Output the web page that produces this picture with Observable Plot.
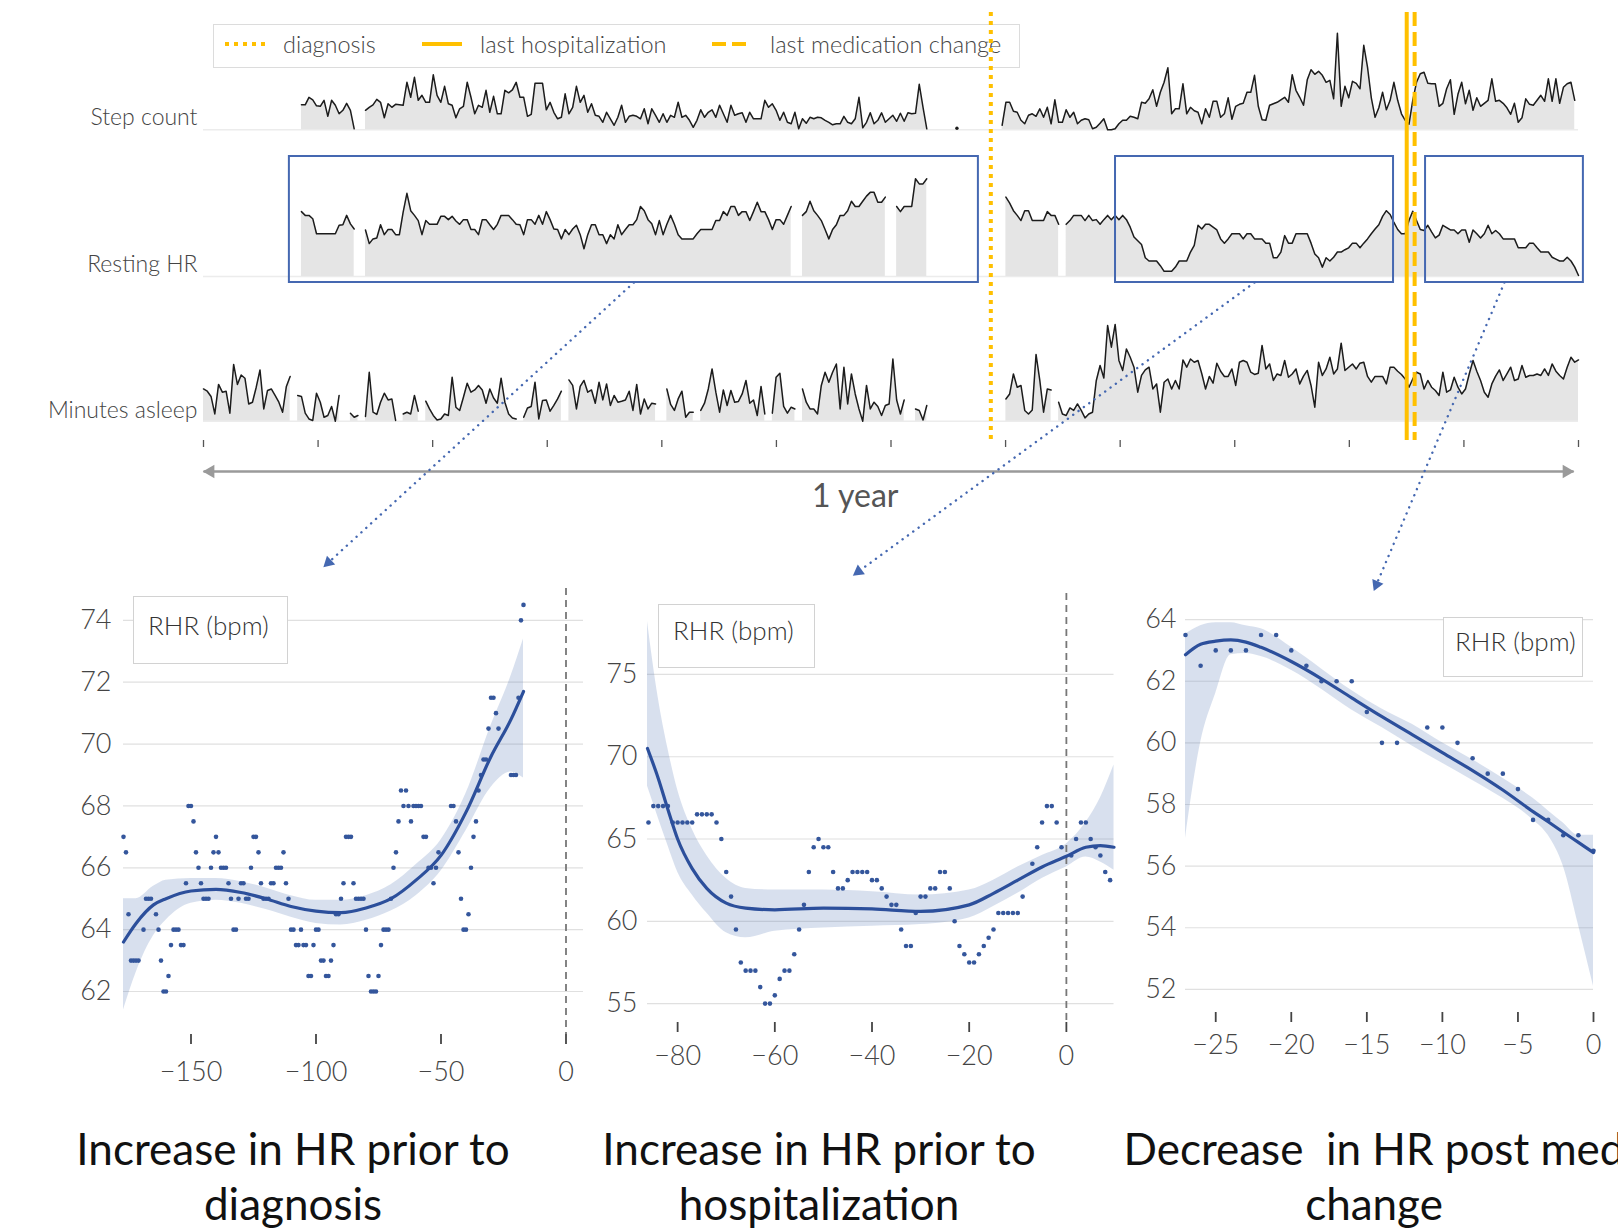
<!DOCTYPE html>
<html>
<head>
<meta charset="utf-8">
<script src="https://cdn.jsdelivr.net/npm/d3@7"></script>
<script src="https://cdn.jsdelivr.net/npm/@observablehq/plot@0.6"></script>
<style>
  html, body { margin:0; padding:0; background:#fff; }
  #root { position:relative; width:1618px; height:1228px; overflow:hidden; font-family: Lato, "Open Sans", sans-serif; }
  .abs { position:absolute; }
  .legend { position:absolute; left:213px; top:24px; width:805px; height:42px; border:1.5px solid #dcdcdc; }
  .legend .item { position:absolute; top:0; height:38px; display:flex; align-items:center; font-size:23.5px; font-weight:300; color:#444; white-space:nowrap; }
  .rhr { position:absolute; border:1.5px solid #d2d2d2; background:#fff; box-sizing:border-box; font-size:26px; font-weight:300; color:#333; white-space:nowrap; }
  .title { position:absolute; width:640px; text-align:center; font-size:44px; line-height:55px; color:#111; white-space:pre; }
</style>
</head>
<body>
<div id="root"></div>
<script>
// ---------------- DATA ----------------
// Daily series over one year (day 0..365); each segment = [first day, daily values]
const stepCountSegments = [
  [26, [5000,5000,6500,6000,4800,4700,5900,2700,5900,4900,3200,3900,5300,3900,200]],
  [43, [3900,4500,5000,6100,5500,2400,5200,4500,5100,5000,
        4900,9500,6500,10500,5900,6900,5500,5500,11000,6900,
        5500,8700,5200,4900,2400,4200,4700,9500,6500,3200,
        4900,4500,7900,3500,6700,3200,3200,7900,7400,8000,
        9500,6500,6500,2700,3100,9300,9300,9300,4000,5500,
        3500,2200,2500,7200,3200,4500,8700,5500,6900,3500,
        5200,2900,2700,1500,3500,2200,900,2500,4900,1500,
        2700,2900,2700,2200,4200,1200,4200,2900,1500,
        3200,1500,2900,2500,5500,2500,2900,1900,500,1900,
        4000,2500,3500,4000,2500,4900,3200,1500,4900,2900,
        3200,3400,1500,3500,2200,2200,2200,5900,4500,5200,
        3900,1900,3500,1500,1200,3500,200,2200,1300,2500,
        2200,2500,2400,1900,1500,1000,1200,1200,2700,1500,
        1200,2200,6500,400,1500,3400,1200,1900,3400,1500,
        2200,2900,1700,3300,1700,3400,3200,3300,9100,4500,
        200]],
  [200, [300]],
  [212, [900,5500,5500,3700,3500,1900,1200,2900,3200,2700,4200,2500,4500,1200,6000,1500,1500,4000,2500,3500,
         1200,1900,2200,2000,200,500,1300,2200,0,0,200,1200,1900,
         1900,2700,2500,2200,5500,5300,6200,8000,4700,7500,
         9500,12400,3200,4200,4200,9200,3200,4500,3800,3500,
         1200,4200,2500,5700,5700,2500,3200,6400,2100,4700,
         5100,5300,7500,7500,10900,4700,2000,1900,4900,5200,
         5500,6000,6500,5500,11000,7900,6500,4900,10000,12000,
         11100,11700,10900,9500,9900,6200,19300,4700,8700,6400,
         9700,9300,8200,16900,12500,6400,2500,4400,7500,4000,
         5900,9500,5900,3200,1900,1100,5900,9500,11200,11500,
         9300,9200,9200,4700,5300,8200,10000,3100,7100,9500,
         5200,7900,3900,6400,4700,5300,5900,10200,5700,5900,
         5300,4400,3100,5300,1500,2400,6200,5100,4900,5900,
         6900,5700,10200,5700,10200,5300,8500,9200,9500,5900]]
];

const restingHRSegments = [
  [26, [66.8,66.0,66.0,65.3,62.1,62.1,62.1,62.1,62.1,62.1,63.9,64.0,66.0,64.2,63.1]],
  [43, [62.9,60.0,61.0,61.2,64.0,61.9,63.0,63.0,61.9,61.9,
        66.7,70.7,67.0,66.0,64.9,61.9,64.9,64.1,64.1,64.1,
        65.8,65.8,65.1,65.8,64.8,64.1,65.1,65.1,63.0,63.0,
        61.9,65.1,65.1,64.0,63.0,64.1,66.0,66.0,66.0,65.1,
        64.1,64.0,61.9,65.1,65.1,64.1,66.0,64.1,66.8,65.1,
        63.1,63.0,61.0,63.0,61.9,63.1,63.9,61.9,58.9,61.9,
        64.0,64.0,61.9,61.9,60.0,61.9,61.0,64.0,61.9,63.0,
        64.0,64.0,65.1,67.9,67.0,65.1,64.2,61.9,
        64.9,61.9,64.1,66.0,64.1,61.9,61.0,61.0,61.0,61.0,
        62.1,63.0,63.0,63.0,63.0,64.9,64.9,66.8,66.0,67.9,
        67.9,66.0,66.8,66.8,64.9,66.8,68.8,66.8,66.8,65.1,
        63.0,65.1,65.1,64.1,66.0,67.9]],
  [159, [66.0,66.8,69.0,67.0,66.0,64.9,63.0,61.0,63.0,64.0,66.0,66.0,67.0,69.0,67.9,67.9,69.0,70.1,70.9,70.9,68.8,68.8,69.9]],
  [184, [67.9,66.8,67.9,67.9,67.9,73.8,72.7,72.7,73.8]],
  [213, [69.9,68.6,67.0,66.0,64.9,67.0,67.0,64.9,64.9,64.9,64.9,66.8,66.0,66.0,64.1]],
  [229, [64.1,64.9,66.0,66.0,66.0,64.9,66.0,64.9,65.1,64.1,65.1,66.0,65.1,66.0,65.1,66.0,
         65.1,63.5,61.4,60.6,59.8,57.0,56.3,56.3,56.3,55.3,
         54.1,54.1,54.1,55.0,56.3,56.3,56.3,58.2,59.6,63.9,
         63.1,64.1,64.1,63.5,62.9,61.0,60.1,61.0,62.1,62.1,
         62.1,61.0,62.1,62.1,61.0,61.0,61.0,60.1,60.1,57.0,
         57.0,58.2,61.7,60.1,60.1,62.1,62.1,62.1,62.1,60.1,
         57.8,57.0,55.0,57.0,56.3,57.1,58.2,58.2,58.7,59.1,
         60.1,60.1,59.1,60.1,61.0,62.1,63.1,64.0,65.8,67.0,
         66.2,64.5,63.0,62.1,62.1,64.9,66.9,64.9,63.0,62.8,
         63.9,62.5,61.2,61.8,63.9,63.4,62.9,62.9,62.1,62.9,
         62.9,60.3,62.9,62.1,61.2,62.1,63.9,62.1,62.8,62.1,
         61.0,61.0,61.0,61.0,59.1,59.1,59.1,60.1,60.1,59.1,
         58.2,58.2,58.2,57.1,56.7,56.3,56.3,57.1,56.3,55.0,53.2]]
];

const minutesAsleepSegments = [
  [0, [329,320,299,229,347,316,320,232,427,347,385,372,269,276,336,405,249,323,329,303,276,236,339,379]],
  [25, [303,299,232,209,203,312,276,216,223,259,200,303]],
  [39, [232,216,223]],
  [43, [219,396,236,227,276,312,285,289,203]],
  [53, [229,236,229,303,240]],
  [59, [280,249,223,205,209,229,223,376,256,243,296,352,316,325,343,325,272,329,293,272,372,276,229,213,209]],
  [85, [216,253,259,356,209,283,285,240,263,289,320]],
  [97, [365,343,249,339,363,316,325,272,356,285,349,263,303,276,280,285,320,243,347,229,289,249,272,269]],
  [123, [329,267,243,289,320,216,236,236]],
  [132, [243,272,329,409,316,236,325,263,323,276,279,309,363,272,285,223,339,229]],
  [151, [232,376,392,259,232,256,249]],
  [159, [329,276,249,249,229,343,396,356,396,429,249,416,269,389,309,249,200,343,249,276,259,223,263,269,449,285,229,285]],
  [189, [249,243,205,263]],
  [213, [289,309,389,336,343,243,229,245,467,363,236,329,325]],
  [227, [276,229,223,253,243,269,243,213,229,236,363,423,373,583,496,587,443,403,
         489,456,416,316,383,405,416,329,349,236,
         356,369,329,363,329,445,416,449,436,443,390,
         329,379,352,432,400,379,379,409,343,436,
         443,436,396,387,392,503,409,429,363,389,
         383,443,376,389,409,349,380,403,343,256,436,
         383,409,456,389,409,512,403,416,429,409,
         432,436,379,356,379,379,379,349,416,416,400,
         387,369,336,369,396,389,329,363,336,323,
         303,396,316,325,376,336,309,329,389,443,
         400,363,316,296,349,380,405,363,389,416,363,
         369,423,376,383,383,389,383,409,383,429,400,
         383,369,416,456,436,445]]
];

// Events (day within the year) and highlighted windows on the Resting HR row
const events = [
  {label: "diagnosis", day: 209, dash: "4,5"},
  {label: "last hospitalization", day: 319.4, dash: null},
  {label: "last medication change", day: 321.5, dash: "14,6"}
];
const highlightWindows = [
  {start: 22.8, end: 205.7},
  {start: 242.1, end: 315.9},
  {start: 324.4, end: 366.3}
];
const monthTicks = d3.range(13).map(i => i * 365 / 12);
const timelineSpan = {start: 0, end: 363.7, label: "1 year", labelDay: 173};

// Detail 1: days relative to diagnosis
const preDiagnosisPoints = [
  [-177,67.0],[-176,66.5],[-175,64.5],[-174,63.0],[-173,63.0],[-172,63.0],[-171,63.0],[-169,64.0],[-168,65.0],[-167,65.0],
  [-166,65.0],[-164,64.5],[-163,64.0],[-162,63.0],[-161,62.0],[-160,62.0],[-159,62.5],[-158,63.5],[-157,64.0],[-156,64.0],
  [-155,64.0],[-154,63.5],[-153,63.5],[-152,65.5],[-151,68.0],[-150,68.0],[-149,67.5],[-148,66.5],[-147,66.0],[-146,65.5],
  [-145,65.0],[-144,65.0],[-143,65.0],[-142,66.0],[-141,66.5],[-140,67.0],[-139,66.5],[-138,66.0],[-137,66.0],[-136,66.0],
  [-135,65.5],[-134,65.0],[-133,64.0],[-132,64.0],[-131,65.0],[-130,65.5],[-129,65.5],[-128,65.0],[-127,65.0],[-126,66.0],
  [-125,67.0],[-124,67.0],[-123,66.5],[-122,65.5],[-121,65.0],[-120,65.0],[-119,65.0],[-118,65.5],[-117,65.5],[-116,66.0],
  [-115,66.0],[-114,66.0],[-113,66.5],[-112,65.5],[-111,65.0],[-110,64.0],[-109,64.0],[-108,63.5],[-107,63.5],[-106,64.0],
  [-105,63.5],[-104,63.5],[-103,62.5],[-102,62.5],[-101,63.5],[-100,64.0],[-99,64.0],[-98,63.0],[-97,63.0],[-96,62.5],
  [-95,62.5],[-94,63.0],[-93,63.5],[-92,64.5],[-91,64.5],[-90,65.0],[-89,65.5],[-88,67.0],[-87,67.0],[-86,67.0],
  [-85,65.5],[-84,65.0],[-83,65.0],[-82,65.0],[-81,65.0],[-80,64.0],[-79,62.5],[-78,62.0],[-77,62.0],[-76,62.0],
  [-75,62.5],[-74,63.5],[-73,64.0],[-72,64.0],[-71,64.0],[-70,65.0],[-69,66.0],[-68,66.5],[-67,67.5],[-66,68.5],
  [-65,68.0],[-64,68.5],[-63,68.0],[-62,67.5],[-61,68.0],[-60,68.0],[-59,68.0],[-58,68.0],[-57,67.0],[-56,67.0],
  [-55,66.0],[-54,66.0],[-53,65.5],[-52,66.0],[-51,66.5],[-46,68.0],[-45,68.0],[-44,67.5],[-43,66.5],[-42,65.0],
  [-41,64.0],[-40,64.0],[-39,64.5],[-38,66.0],[-37,67.0],[-36,67.5],[-35,68.5],[-34,69.0],[-33,69.5],[-32,69.5],
  [-31,70.5],[-30,71.5],[-29,71.5],[-28,71.0],[-27,70.5],[-22,69.0],[-21,69.0],[-20,69.0],[-19,71.5],[-18,74.0],[-17,74.5]
];
const preDiagnosisBandX   = [-177,-172,-165,-160,-150,-140,-130,-120,-110,-100,-90,-80,-70,-60,-50,-40,-30,-22,-17];
const preDiagnosisFit     = [63.6,64.2,64.8,65.0,65.25,65.3,65.2,65.0,64.75,64.6,64.55,64.7,65.0,65.6,66.4,67.8,69.6,70.8,71.7];
const preDiagnosisLower   = [61.4,62.6,63.8,64.3,64.85,64.95,64.85,64.65,64.4,64.2,64.15,64.3,64.6,65.1,65.9,67.2,68.6,69.1,68.9];
const preDiagnosisUpper   = [65.0,65.0,65.4,65.6,65.65,65.65,65.55,65.35,65.1,64.95,64.95,65.1,65.45,66.1,66.9,68.4,70.6,72.2,73.4];

// Detail 2: days relative to last hospitalization
const preHospitalPoints = [
  [-86,66.0],[-85,67.0],[-84,67.0],[-83,67.0],[-82,67.0],[-81,66.0],[-80,66.0],[-79,66.0],[-78,66.0],[-77,66.0],
  [-76,66.5],[-75,66.5],[-74,66.5],[-73,66.5],[-72,66.0],[-71,65.0],[-70,63.0],[-69,61.5],[-68,59.5],[-67,57.5],
  [-66,57.0],[-65,57.0],[-64,57.0],[-63,56.0],[-62,55.0],[-61,55.0],[-60,55.5],[-59,56.5],[-58,57.0],[-57,57.0],
  [-56,58.0],[-55,59.5],[-54,61.0],[-53,63.0],[-52,64.5],[-51,65.0],[-50,64.5],[-49,64.5],[-48,63.0],[-47,62.0],
  [-46,62.0],[-45,62.5],[-44,63.0],[-43,63.0],[-42,63.0],[-41,63.0],[-40,62.5],[-39,62.5],[-38,62.0],[-37,61.5],
  [-36,61.0],[-35,61.0],[-34,59.5],[-33,58.5],[-32,58.5],[-31,60.5],[-30,61.5],[-29,61.5],[-28,62.0],[-27,62.0],
  [-26,63.0],[-25,63.0],[-24,62.0],[-23,60.0],[-22,58.5],[-21,58.0],[-20,57.5],[-19,57.5],[-18,58.0],[-17,58.5],
  [-16,59.0],[-15,59.5],[-14,60.5],[-13,60.5],[-12,60.5],[-11,60.5],[-10,60.5],[-9,61.5],[-7,63.5],[-6,64.5],
  [-5,66.0],[-4,67.0],[-3,67.0],[-2,66.0],[-1,64.5],[1,64.0],[2,65.0],[3,66.0],[4,66.0],[5,65.0],
  [6,64.5],[7,64.0],[8,63.0],[9,62.5]
];
const preHospitalBandX = [-86.2,-84,-82,-80,-77,-74,-70,-66,-60,-50,-40,-30,-20,-15,-10,-5,0,4,7,9.8];
const preHospitalFit   = [70.5,68.7,66.8,65.0,63.2,62.0,61.1,60.8,60.7,60.8,60.75,60.6,61.0,61.7,62.5,63.3,63.95,64.5,64.6,64.5];
const preHospitalLower = [68.2,66.3,64.6,63.0,61.6,60.5,59.3,59.0,59.4,59.6,59.7,59.8,60.2,60.9,61.7,62.6,63.3,63.9,63.6,63.1];
const preHospitalUpper = [78.2,73.6,70.5,68.0,65.6,64.0,62.6,62.0,61.9,61.9,61.8,61.6,61.9,62.5,63.3,64.0,64.7,66.0,67.5,69.5];

// Detail 3: days after last medication change
const postMedPoints = [
  [-27,63.5],[-26,62.5],[-25,63.0],[-24,63.0],[-23,63.0],[-22,63.5],[-21,63.5],[-20,63.0],[-19,62.5],[-18,62.0],
  [-17,62.0],[-16,62.0],[-15,61.0],[-14,60.0],[-13,60.0],[-11,60.5],[-10,60.5],[-9,60.0],[-8,59.5],[-7,59.0],
  [-6,59.0],[-5,58.5],[-4,57.5],[-3,57.5],[-2,57.0],[-1,57.0],[0,56.5]
];
const postMedBandX = [-27,-26,-25,-24,-23,-22,-20,-18,-16,-14,-12,-10,-8,-6,-4,-3,-2,-1,0];
const postMedFit   = [62.86,63.2,63.3,63.34,63.27,63.1,62.64,62.08,61.46,60.85,60.27,59.68,59.1,58.47,57.77,57.44,57.1,56.77,56.44];
const postMedLower = [56.9,60.0,61.6,62.86,62.9,62.8,62.36,61.74,61.07,60.5,59.9,59.34,58.78,58.2,57.5,57.0,56.0,54.1,52.1];
const postMedUpper = [63.53,63.8,63.9,63.9,63.8,63.7,63.1,62.4,61.7,61.1,60.6,60.0,59.45,58.85,58.2,57.8,57.4,57.0,57.0];

const detailTitles = [
  "Increase in HR prior to\ndiagnosis",
  "Increase in HR prior to\nhospitalization",
  "Decrease  in HR post med\nchange"
];
const detailLegendLabel = "RHR (bpm)";

// ---------------- LAYOUT ----------------
const W = 1618, X0 = 203, X1 = 1578;
const gold = "#ffc000", blue = "#4568b1";
const root = document.getElementById("root");

function place(node, left, top, width) {
  const d = document.createElement("div");
  d.className = "abs";
  d.style.left = left + "px"; d.style.top = top + "px";
  if (width) d.style.width = width + "px";
  d.appendChild(node); root.appendChild(d);
  return node;
}
function expand(segments) {
  const out = [];
  segments.forEach(([start, values], seg) => values.forEach((value, i) => out.push({day: start + i, value, seg})));
  return out;
}
const baseStyle = {background: "transparent", maxWidth: "none", overflow: "visible", fontFamily: "Lato, 'Open Sans', sans-serif"};

function rowPlot({segments, baseline, y, height, marginTop, marginBottom, label, labelDy, extra = []}) {
  const data = expand(segments);
  const singles = data.filter(d => segments[d.seg][1].length === 1);
  return Plot.plot({
    width: W, height, marginLeft: X0, marginRight: W - X1, marginTop, marginBottom,
    style: baseStyle,
    x: {domain: [0, 365], axis: null},
    y: {...y, axis: null},
    marks: [
      Plot.ruleY([baseline], {stroke: "#ececec", strokeWidth: 1.5}),
      Plot.areaY(data, {x: "day", y1: baseline, y2: "value", z: "seg", fill: "#e5e5e5"}),
      Plot.lineY(data, {x: "day", y: "value", z: "seg", stroke: "#1c1c1c", strokeWidth: 1.5}),
      Plot.dot(singles, {x: "day", y: "value", r: 1.7, fill: "#1c1c1c"}),
      ...extra,
      Plot.text([label], {frameAnchor: "bottom-left", textAnchor: "end", lineAnchor: "middle", dx: -6, dy: labelDy, fontSize: 23, fontWeight: 300, fill: "#444"})
    ]
  });
}

// Top rows
place(rowPlot({segments: stepCountSegments, baseline: 0, y: {domain: [0, 26000], range: [129.3, -0.7]},
  height: 140, marginTop: 0, marginBottom: 10.7, label: "Step count", labelDy: -12}), 0, 0, W);

const HR_TOP = 145, HR_H = 145, HR_MB = 8;
const hrPlot = place(rowPlot({segments: restingHRSegments, baseline: 53, y: {domain: [53, 80], range: [131, 4.1]},
  height: HR_H, marginTop: 11, marginBottom: HR_MB, label: "Resting HR", labelDy: -18,
  extra: [Plot.rect(highlightWindows, {x1: "start", x2: "end", stroke: blue, strokeWidth: 2, fill: "none"})]}), 0, HR_TOP, W);

place(rowPlot({segments: minutesAsleepSegments, baseline: 200, y: {domain: [200, 700], range: [120.7, -4.3]},
  height: 130, marginTop: 0, marginBottom: 9.3, label: "Minutes asleep", labelDy: -11}), 0, 300, W);

// Legend (top)
const legend = document.createElement("div");
legend.className = "legend";
const legendOffsets = [11, 208, 498];
events.forEach((e, i) => {
  const it = document.createElement("div");
  it.className = "item";
  it.style.left = legendOffsets[i] + "px";
  it.innerHTML = `<svg width="40" height="8"><line x1="0" y1="4" x2="40" y2="4" stroke="${gold}" stroke-width="4" ${e.dash ? `stroke-dasharray="${e.dash}"` : ""}/></svg><span style="margin-left:18px">${e.label}</span>`;
  legend.appendChild(it);
});
root.appendChild(legend);

// Detail charts
const minus = d => (d < 0 ? "\u2212" + Math.abs(d) : String(d));
function zip(xs, fit, lo, hi) { return xs.map((x, i) => ({x, fit: fit[i], lo: lo[i], hi: hi[i]})); }
function detailPlot({points, band, width, height, margins, xDomain, yDomain, xTicks, yTicks, xPad, yPad, zeroLine}) {
  const pts = points.map(([x, y]) => ({x, y}));
  return Plot.plot({
    width, height,
    marginLeft: margins[0], marginRight: margins[1], marginTop: margins[2], marginBottom: margins[3],
    style: {...baseStyle, color: "#444"},
    x: {domain: xDomain, label: null},
    y: {domain: yDomain, label: null},
    marks: [
      Plot.gridY(yTicks, {stroke: "#e0e0e0", strokeOpacity: 1, strokeWidth: 1.2}),
      Plot.areaY(band, {x: "x", y1: "lo", y2: "hi", fill: "#4c72b0", fillOpacity: 0.22, curve: "monotone-x"}),
      zeroLine ? Plot.ruleX([0], {stroke: "#777", strokeWidth: 1.8, strokeDasharray: "7,5"}) : null,
      Plot.dot(pts, {x: "x", y: "y", r: 2.3, fill: "#34569c"}),
      Plot.line(band, {x: "x", y: "fit", stroke: "#2c4f9b", strokeWidth: 3.2, curve: "monotone-x"}),
      Plot.axisX(xTicks, {tickSize: 10, tickPadding: xPad, tickFormat: minus, label: null, fontSize: 27, fontWeight: 300, strokeWidth: 1.8}),
      Plot.axisY(yTicks, {tickSize: 0, tickPadding: yPad, label: null, fontSize: 27, fontWeight: 300})
    ].filter(Boolean)
  });
}

place(detailPlot({
  points: preDiagnosisPoints, band: zip(preDiagnosisBandX, preDiagnosisFit, preDiagnosisLower, preDiagnosisUpper),
  width: 600, height: 540, margins: [123, 17, 28, 66], xDomain: [-177, 7], yDomain: [60.61, 75.03],
  xTicks: [-150, -100, -50, 0], yTicks: [62, 64, 66, 68, 70, 72, 74], xPad: 17, yPad: 12, zeroLine: true
}), 0, 560, 600);

place(detailPlot({
  points: preHospitalPoints, band: zip(preHospitalBandX, preHospitalFit, preHospitalLower, preHospitalUpper),
  width: 540, height: 540, margins: [47, 26.5, 33, 78], xDomain: [-86.2, 9.8], yDomain: [53.85, 79.92],
  xTicks: [-80, -60, -40, -20, 0], yTicks: [55, 60, 65, 70, 75], xPad: 13, yPad: 10, zeroLine: true
}), 600, 560, 540);

place(detailPlot({
  points: postMedPoints, band: zip(postMedBandX, postMedFit, postMedLower, postMedUpper),
  width: 478, height: 540, margins: [45, 25, 48, 88], xDomain: [-27, 0], yDomain: [51.25, 64.36],
  xTicks: [-25, -20, -15, -10, -5, 0], yTicks: [52, 54, 56, 58, 60, 62, 64], xPad: 12, yPad: 9, zeroLine: false
}), 1140, 560, 478);

// Legend boxes inside the detail charts
const legendBoxes = [
  {left: 133, top: 596, width: 155, height: 68, padLeft: 14, padTop: 12},
  {left: 658, top: 604, width: 157, height: 64, padLeft: 14, padTop: 9},
  {left: 1443, top: 617, width: 140, height: 60, padLeft: 11, padTop: 7}
];
legendBoxes.forEach(b => {
  const d = document.createElement("div");
  d.className = "rhr";
  Object.assign(d.style, {left: b.left + "px", top: b.top + "px", width: b.width + "px", height: b.height + "px",
    paddingLeft: b.padLeft + "px", paddingTop: b.padTop + "px"});
  d.textContent = detailLegendLabel;
  root.appendChild(d);
});

// Titles under the detail charts
const titleCenters = [293, 819, 1374];
detailTitles.forEach((t, i) => {
  const d = document.createElement("div");
  d.className = "title";
  d.style.left = (titleCenters[i] - 320) + "px";
  d.style.top = "1121px";
  d.textContent = t;
  root.appendChild(d);
});

// Event lines + month ticks overlay
place(Plot.plot({
  width: W, height: 460, marginLeft: X0, marginRight: W - X1, marginTop: 12, marginBottom: 20,
  style: baseStyle,
  x: {domain: [0, 365], label: null},
  marks: [
    Plot.ruleX(events.filter(e => e.label === "diagnosis"), {x: "day", stroke: gold, strokeWidth: 4, strokeDasharray: "4,5"}),
    Plot.ruleX(events.filter(e => e.label === "last hospitalization"), {x: "day", stroke: gold, strokeWidth: 4}),
    Plot.ruleX(events.filter(e => e.label === "last medication change"), {x: "day", stroke: gold, strokeWidth: 4, strokeDasharray: "14,6"}),
    Plot.axisX(monthTicks, {tickSize: 7, tickFormat: () => "", label: null, stroke: "#555", strokeWidth: 1.3})
  ]
}), 0, 0, W);

// "1 year" timeline arrow (double-headed)
place(Plot.plot({
  width: W, height: 60, marginLeft: X0, marginRight: W - X1, marginTop: 16, marginBottom: 19,
  style: baseStyle,
  x: {domain: [0, 365], axis: null},
  y: {domain: [0, 1], axis: null},
  marks: [
    Plot.link([timelineSpan], {x1: "start", x2: "end", y1: 1, y2: 1, stroke: "#9a9a9a", strokeWidth: 2.5}),
    Plot.dot([timelineSpan], {x: "start", y: 1, symbol: "triangle", r: 5, fill: "#9a9a9a", rotate: -90, dx: 7}),
    Plot.dot([timelineSpan], {x: "end", y: 1, symbol: "triangle", r: 5, fill: "#9a9a9a", rotate: 90, dx: -7}),
    Plot.text([timelineSpan], {x: "labelDay", y: 0, text: "label", fontSize: 32, fill: "#555"})
  ]
}), 0, 455, W);

// Dotted connectors from highlighted windows to detail charts
const hx = hrPlot.scale("x");
const connectorTargets = [{x: 328, y: 562}, {x: 858, y: 571}, {x: 1376, y: 584}];
const connectors = highlightWindows.map((w, i) => {
  const x1 = hx.apply((w.start + w.end) / 2), y1 = HR_TOP + HR_H - HR_MB;
  const {x: x2, y: y2} = connectorTargets[i];
  return {x1, y1, x2, y2, angle: Math.atan2(x2 - x1, -(y2 - y1)) * 180 / Math.PI};
});
place(Plot.plot({
  width: W, height: 1228, margin: 0,
  style: {...baseStyle, pointerEvents: "none"},
  x: {domain: [0, W], range: [0, W], axis: null},
  y: {domain: [0, 1228], range: [0, 1228], axis: null},
  marks: [
    Plot.link(connectors, {x1: "x1", y1: "y1", x2: "x2", y2: "y2", stroke: blue, strokeWidth: 2.4, strokeDasharray: "0.1,6.5", strokeLinecap: "round"}),
    Plot.dot(connectors, {x: "x2", y: "y2", symbol: "triangle", r: 4.5, fill: blue, rotate: "angle"})
  ]
}), 0, 0, W);
</script>
</body>
</html>
